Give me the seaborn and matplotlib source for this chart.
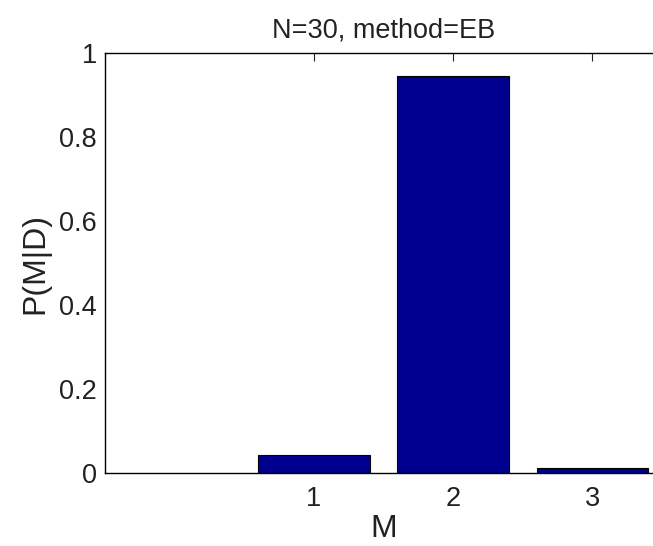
import matplotlib
matplotlib.use("Agg")
import matplotlib.pyplot as plt
import seaborn as sns
import pandas as pd

models = [1, 2, 3]
probs = [0.043, 0.945, 0.012]
yticks = [0, 0.2, 0.4, 0.6, 0.8, 1]
ytick_labels = ["0", "0.2", "0.4", "0.6", "0.8", "1"]

sns.set_style("white")
plt.rcParams['font.family'] = ['Liberation Sans', 'DejaVu Sans']

df = pd.DataFrame({"M": models, "P": probs})

fig = plt.figure(figsize=(6.53, 5.46), dpi=100)
ax = fig.add_axes([105/653, 1 - 473/546, (662-105)/653, (473-53)/546])

sns.barplot(data=df, x="M", y="P", native_scale=True, color="#00008F",
            saturation=1, edgecolor="black", linewidth=0.8, width=0.8, ax=ax)

ax.set_xlim(-0.5, 3.5)
ax.set_ylim(0, 1)
ax.set_xticks(models)
ax.set_xticklabels([str(m) for m in models])
ax.set_yticks(yticks)
ax.set_yticklabels(ytick_labels)
for s in ax.spines.values():
    s.set_visible(True)
    s.set_color("black")
    s.set_linewidth(1.0)
ax.tick_params(direction="in", length=6, width=0.8, top=True, right=True,
               labelsize=19.5, colors="#222222", pad=6)
ax.tick_params(axis="x", pad=9)
ax.set_xlabel("M", fontsize=23, labelpad=2, color="#222222")
ax.set_ylabel("P(M|D)", fontsize=23, labelpad=6, color="#222222")
ax.set_title("N=30, method=EB", fontsize=19.5, pad=11, color="#222222")

fig.savefig("out.png", dpi=100)
